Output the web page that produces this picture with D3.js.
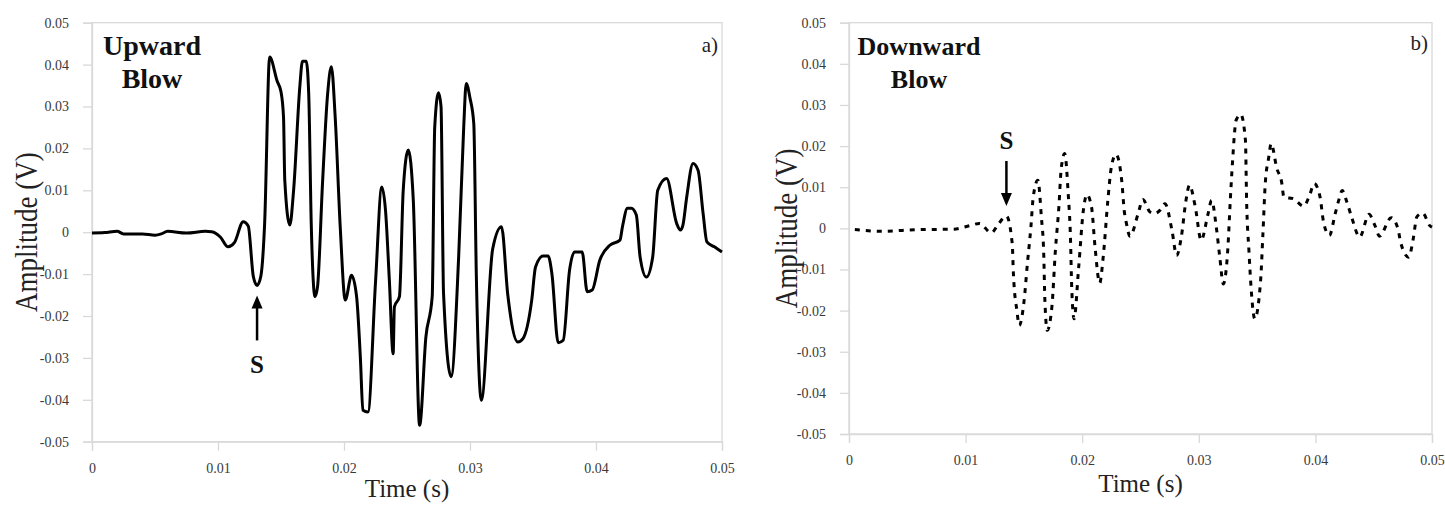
<!DOCTYPE html>
<html>
<head>
<meta charset="utf-8">
<script src="https://cdn.jsdelivr.net/npm/d3@7"></script>
<style>
  body { margin: 0; background: #fff; }
  text { font-family: "Liberation Serif", "Times New Roman", serif; }
</style>
</head>
<body>
<svg id="chart"></svg>
<script>
// tick values
let timeTicks = [0, 0.01, 0.02, 0.03, 0.04, 0.05]
let ampTicks = [-0.05, -0.04, -0.03, -0.02, -0.01, 0, 0.01, 0.02, 0.03, 0.04, 0.05]

// a) upward blow
let upwardTime = [
  0, 0.001, 0.002, 0.0025, 0.004, 0.005, 0.0055, 0.006, 0.0075, 0.009,
  0.0095, 0.0102, 0.0108, 0.0113, 0.0120, 0.0124, 0.0128, 0.0131, 0.0134, 0.0137,
  0.0141, 0.0147, 0.0150, 0.0152, 0.0153, 0.0157, 0.0160, 0.0165, 0.0167, 0.0170,
  0.0172, 0.0174, 0.0177, 0.0179, 0.0183, 0.0187, 0.0190, 0.0193, 0.0197, 0.0201,
  0.0206, 0.0210, 0.0213, 0.0215, 0.0219, 0.0225, 0.0230, 0.0233, 0.0236, 0.0239,
  0.0240, 0.0244, 0.0247, 0.0251, 0.0255, 0.0260, 0.0265, 0.0270, 0.0272, 0.0275,
  0.0277, 0.0279, 0.0285, 0.0291, 0.0295, 0.0297, 0.0300, 0.0303, 0.0305, 0.0309,
  0.0318, 0.0325, 0.0330, 0.0338, 0.0342, 0.0349, 0.0352, 0.0358, 0.0362, 0.0365,
  0.0370, 0.0374, 0.0379, 0.0383, 0.0389, 0.0393, 0.0397, 0.0403, 0.0411, 0.0419,
  0.0421, 0.0425, 0.0428, 0.0432, 0.0435, 0.0440, 0.0445, 0.0449, 0.0456, 0.0464,
  0.0467, 0.0469, 0.0472, 0.0477, 0.0481, 0.0485, 0.0488, 0.0494, 0.0500
]
let upwardAmp = [
  -0.0002, -0.0001, 0.0002, -0.0004, -0.0004, -0.0007, -0.0004, 0.0002, -0.0002, 0.0002,
  0.0001, -0.0012, -0.0035, -0.0025, 0.0025, 0.0015, -0.0105, -0.0127, -0.0105, 0.0020,
  0.0418, 0.0360, 0.0335, 0.0275, 0.0124, 0.0017, 0.0100, 0.0350, 0.0408, 0.0408,
  0.0330, 0.0020, -0.0154, -0.0130, 0.0120, 0.0330, 0.0395, 0.0275, 0.0013, -0.0162,
  -0.0103, -0.0154, -0.0300, -0.0425, -0.0429, -0.0120, 0.0108, 0.0050, -0.0115, -0.0290,
  -0.0178, -0.0154, 0.0100, 0.0196, 0.0076, -0.0461, -0.0250, -0.0154, 0.0250, 0.0333,
  0.0300, -0.0146, -0.0345, -0.0059, 0.0250, 0.0355, 0.0320, 0.0259, -0.0099, -0.0401,
  -0.0040, 0.0013, -0.0150, -0.0262, -0.0254, -0.0162, -0.0083, -0.0057, -0.0057, -0.0099,
  -0.0264, -0.0258, -0.0091, -0.0047, -0.0047, -0.0142, -0.0138, -0.0067, -0.0031, -0.0019,
  0.0013, 0.0057, 0.0057, 0.0041, -0.0059, -0.0107, -0.0059, 0.0100, 0.0128, 0.0021,
  0.0005, 0.0017, 0.0084, 0.0164, 0.0148, 0.0045, -0.0023, -0.0035, -0.0047
]

// b) downward blow
let downwardTime = [
  0.0005, 0.0028, 0.0060, 0.0090, 0.0104, 0.0112, 0.0122, 0.0128, 0.0135, 0.0140,
  0.0141, 0.0144, 0.0146, 0.0150, 0.0153, 0.0156, 0.0158, 0.0162, 0.0165, 0.0167,
  0.0168, 0.0170, 0.0174, 0.0177, 0.0180, 0.0182, 0.0185, 0.0188, 0.0190, 0.0191,
  0.0193, 0.0197, 0.0201, 0.0204, 0.0208, 0.0211, 0.0215, 0.0218, 0.0222, 0.0225,
  0.0229, 0.0234, 0.0236, 0.0238, 0.0241, 0.0248, 0.0252, 0.0258, 0.0262, 0.0267,
  0.0271, 0.0277, 0.0281, 0.0285, 0.0289, 0.0292, 0.0297, 0.0302, 0.0308, 0.0311,
  0.0315, 0.0318, 0.0321, 0.0325, 0.0327, 0.0329, 0.0332, 0.0336, 0.0340, 0.0341,
  0.0343, 0.0345, 0.0348, 0.0353, 0.0355, 0.0357, 0.0360, 0.0362, 0.0367, 0.0371,
  0.0373, 0.0381, 0.0390, 0.0395, 0.0399, 0.0404, 0.0407, 0.0412, 0.0417, 0.0420,
  0.0423, 0.0427, 0.0431, 0.0438, 0.0446, 0.0451, 0.0455, 0.0465, 0.0471, 0.0473,
  0.0480, 0.0484, 0.0487, 0.0492, 0.0498, 0.0500
]
let downwardAmp = [
  -0.0003, -0.0007, -0.0003, -0.0002, 0.0007, 0.0012, -0.0011, 0.0010, 0.0030, -0.0037,
  -0.0110, -0.0200, -0.0236, -0.0180, -0.0086, 0.0003, 0.0076, 0.0117, 0.0027, -0.0062,
  -0.0175, -0.0248, -0.0191, -0.0054, 0.0052, 0.0145, 0.0182, 0.0084, -0.0029, -0.0143,
  -0.0220, -0.0094, 0.0044, 0.0082, 0.0052, -0.0045, -0.0133, -0.0070, 0.0068, 0.0149,
  0.0180, 0.0113, 0.0044, 0.0011, -0.0019, 0.0036, 0.0070, 0.0040, 0.0036, 0.0045,
  0.0060, -0.0005, -0.0066, -0.0021, 0.0068, 0.0105, 0.0052, -0.0029, 0.0036, 0.0068,
  0.0003, -0.0070, -0.0135, -0.0045, 0.0068, 0.0165, 0.0263, 0.0277, 0.0214, 0.0068,
  -0.0054, -0.0151, -0.0220, -0.0127, -0.0013, 0.0109, 0.0173, 0.0206, 0.0145, 0.0113,
  0.0076, 0.0072, 0.0054, 0.0080, 0.0109, 0.0076, 0.0015, -0.0017, 0.0036, 0.0068,
  0.0092, 0.0064, 0.0028, -0.0021, 0.0034, 0.0007, -0.0019, 0.0026, -0.0003, -0.0033,
  -0.0070, -0.0024, 0.0028, 0.0037, 0.0007, 0.0003
]

// where the "S" arrows point
let sTimes = [0.0131, 0.0135]
let sAmps = [-0.0127, 0.0030]

let width = 1445
let height = 506
let svg = d3.select('#chart')
  .attr('width', width)
  .attr('height', height)

svg.append('rect')
  .attr('width', width)
  .attr('height', height)
  .attr('fill', '#fff')

let fmt = (d) => d === 0 ? '0' : d.toFixed(2)

let panels = [
  {
    x0: 92, x1: 722, y0: 441.7, y1: 22.7,
    time: upwardTime, amp: upwardAmp, dash: null,
    title: ['Upward', 'Blow'], titleX: 152, titleSize: 28,
    tag: 'a)', tagX: 718, tagY: 52,
    yTitleX: 37, xTitleY: 497,
    s: 0, up: true
  },
  {
    x0: 849, x1: 1432, y0: 434, y1: 22.7,
    time: downwardTime, amp: downwardAmp, dash: '5,6',
    title: ['Downward', 'Blow'], titleX: 919, titleSize: 26,
    tag: 'b)', tagX: 1428, tagY: 50,
    yTitleX: 797, xTitleY: 492,
    s: 1, up: false
  }
]

panels.forEach((p) => {
  let x = d3.scaleLinear().domain([0, 0.05]).range([p.x0, p.x1])
  let y = d3.scaleLinear().domain([-0.05, 0.05]).range([p.y0, p.y1])
  let g = svg.append('g')

  // plot frame
  g.append('rect')
    .attr('x', p.x0)
    .attr('y', p.y1)
    .attr('width', p.x1 - p.x0)
    .attr('height', p.y0 - p.y1)
    .attr('fill', 'none')
    .attr('stroke', '#d9d9d9')
    .attr('stroke-width', 1.3)

  let xAxis = g.append('g')
    .attr('transform', `translate(0,${p.y0})`)
    .call(d3.axisBottom(x).tickValues(timeTicks).tickFormat(fmt).tickSize(9).tickPadding(12))
  let yAxis = g.append('g')
    .attr('transform', `translate(${p.x0},0)`)
    .call(d3.axisLeft(y).tickValues(ampTicks).tickFormat(fmt).tickSize(9).tickPadding(14))
  ;[xAxis, yAxis].forEach((a) => {
    a.select('.domain').attr('stroke', '#d9d9d9').attr('stroke-width', 1.3)
    a.selectAll('.tick line').attr('stroke', '#d9d9d9').attr('stroke-width', 1.3)
    a.selectAll('.tick text')
      .attr('font-family', '"Liberation Serif", serif')
      .attr('font-size', 14)
      .attr('fill', '#3a3a3a')
  })

  let line = d3.line()
    .x((d, i) => x(p.time[i]))
    .y((d) => y(d))
    .curve(d3.curveMonotoneX)

  g.append('path')
    .datum(p.amp)
    .attr('d', line)
    .attr('fill', 'none')
    .attr('stroke', '#000')
    .attr('stroke-width', 3)
    .attr('stroke-linejoin', 'round')
    .attr('stroke-dasharray', p.dash)

  // axis titles
  g.append('text')
    .attr('x', (p.x0 + p.x1) / 2)
    .attr('y', p.xTitleY)
    .attr('text-anchor', 'middle')
    .attr('font-size', 25)
    .attr('fill', '#222')
    .text('Time (s)')
  g.append('text')
    .attr('transform', `translate(${p.yTitleX},${(p.y0 + p.y1) / 2}) rotate(-90) scale(1,1.2)`)
    .attr('text-anchor', 'middle')
    .attr('font-size', 27)
    .attr('fill', '#222')
    .text('Amplitude (V)')

  // panel label
  let t = g.append('text')
    .attr('x', p.titleX)
    .attr('y', 55)
    .attr('text-anchor', 'middle')
    .attr('font-size', p.titleSize)
    .attr('font-weight', 'bold')
    .attr('fill', '#111')
  t.append('tspan').attr('x', p.titleX).text(p.title[0])
  t.append('tspan').attr('x', p.titleX).attr('dy', 33).text(p.title[1])

  g.append('text')
    .attr('x', p.tagX)
    .attr('y', p.tagY)
    .attr('text-anchor', 'end')
    .attr('font-size', 21)
    .attr('fill', '#222')
    .text(p.tag)

  // S arrow
  let ax = x(sTimes[p.s])
  let ay = y(sAmps[p.s])
  let dir = p.up ? 1 : -1
  let tip = ay + dir * 10
  let tail = tip + dir * 45
  g.append('line')
    .attr('x1', ax).attr('x2', ax)
    .attr('y1', tip + dir * 8).attr('y2', tail)
    .attr('stroke', '#000')
    .attr('stroke-width', 2.5)
  g.append('path')
    .attr('d', `M${ax},${tip} L${ax - 5.5},${tip + dir * 13} L${ax + 5.5},${tip + dir * 13} Z`)
    .attr('fill', '#000')
  g.append('text')
    .attr('x', ax)
    .attr('y', p.up ? tail + 33 : tail - 12)
    .attr('text-anchor', 'middle')
    .attr('font-size', 25)
    .attr('font-weight', 'bold')
    .attr('fill', '#111')
    .text('S')
})
</script>
</body>
</html>
